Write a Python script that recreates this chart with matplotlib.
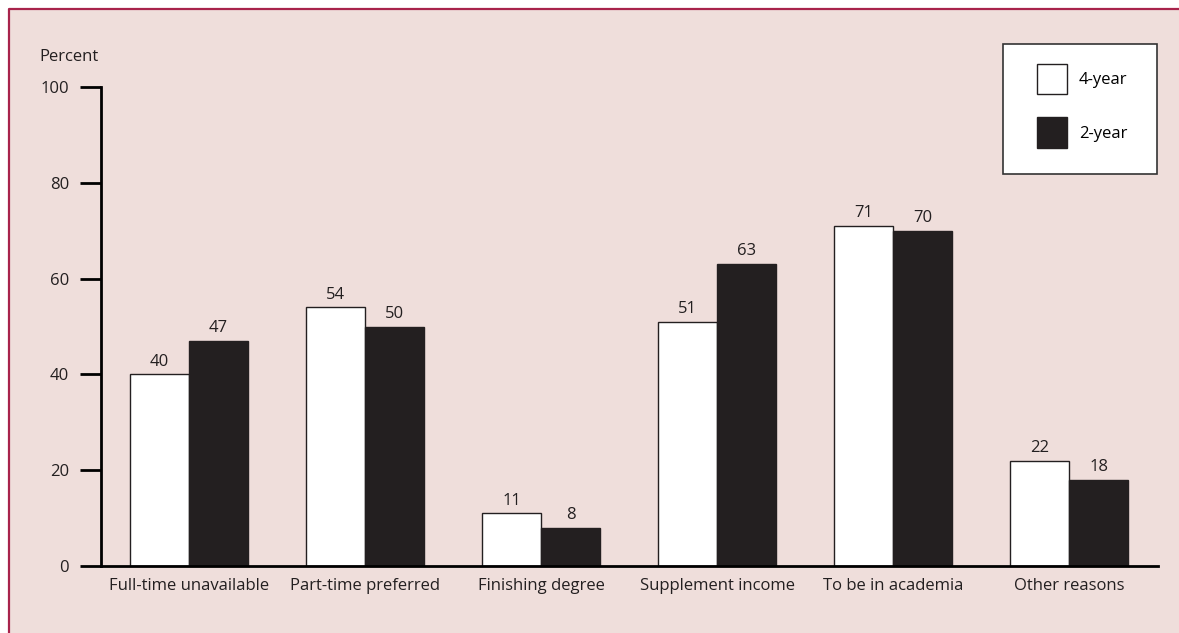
import numpy as np
import matplotlib.pyplot as plt
from matplotlib.patches import Rectangle
from matplotlib.lines import Line2D

categories = ["Full-time unavailable", "Part-time preferred", "Finishing degree",
              "Supplement income", "To be in academia", "Other reasons"]
four_year = [40, 54, 11, 51, 71, 22]
two_year = [47, 50, 8, 63, 70, 18]
yticks = [0, 20, 40, 60, 80, 100]

BG = "#efdedb"
BORDER = "#a8234b"
DARK = "#231f20"
FS = 12

plt.rcParams['font.family'] = ['Open Sans', 'DejaVu Sans']

W, H = 1179, 633
fig = plt.figure(figsize=(W / 100, H / 100), dpi=100)
fig.patch.set_facecolor("white")

# pink panel with crimson top/left border
x0, y0 = 8.5 / W, 1 - 8.5 / H
fig.add_artist(Rectangle((x0, 0), 1 - x0, y0, transform=fig.transFigure,
                         facecolor=BG, edgecolor="none", zorder=-2))
fig.add_artist(Line2D([x0, x0, 1], [0, y0, y0], transform=fig.transFigure,
                      color=BORDER, linewidth=1.6, zorder=-1))

ax = fig.add_axes([101 / W, 1 - 566 / H, (1158 - 101) / W, (566 - 87) / H])
ax.set_facecolor("none")

x = np.arange(len(categories))
w = 0.335
b1 = ax.bar(x - w / 2, four_year, w, color="white", edgecolor=DARK, linewidth=1.0, label="4-year")
b2 = ax.bar(x + w / 2, two_year, w, color=DARK, edgecolor=DARK, linewidth=1.0, label="2-year")

for bars, vals in ((b1, four_year), (b2, two_year)):
    for r, v in zip(bars, vals):
        ax.text(r.get_x() + r.get_width() / 2, v + 1.0, str(v), ha="center", va="bottom",
                fontsize=FS, color=DARK)

ax.set_xlim(-0.5, 5.505)
ax.set_ylim(0, 100)
ax.set_yticks(yticks)
ax.set_xticks(x)
ax.set_xticklabels(categories, fontsize=FS, color=DARK)
ax.tick_params(axis="y", length=15, width=2, color="black", labelsize=FS, labelcolor=DARK, pad=8)
ax.tick_params(axis="x", length=0, pad=9)
for s in ("top", "right"):
    ax.spines[s].set_visible(False)
ax.spines["left"].set_linewidth(2)
ax.spines["bottom"].set_linewidth(2)

ax.text(-0.058, 1.045, "Percent", transform=ax.transAxes, ha="left", va="bottom",
        fontsize=FS, color=DARK)

# legend box drawn separately so the padding can be uneven like the original
ax.add_patch(Rectangle((0.8534, 0.8184), 0.1457, 0.2714, transform=ax.transAxes,
                       facecolor="white", edgecolor="#333333", linewidth=1.2,
                       clip_on=False, zorder=4))
leg = ax.legend(loc="upper left", bbox_to_anchor=(0.8855, 1.048), frameon=False,
                fontsize=FS, handlelength=1.8, handleheight=2.4, handletextpad=0.7,
                labelspacing=1.4, borderpad=0, borderaxespad=0)
leg.set_zorder(5)

fig.savefig("out.png", dpi=100)
